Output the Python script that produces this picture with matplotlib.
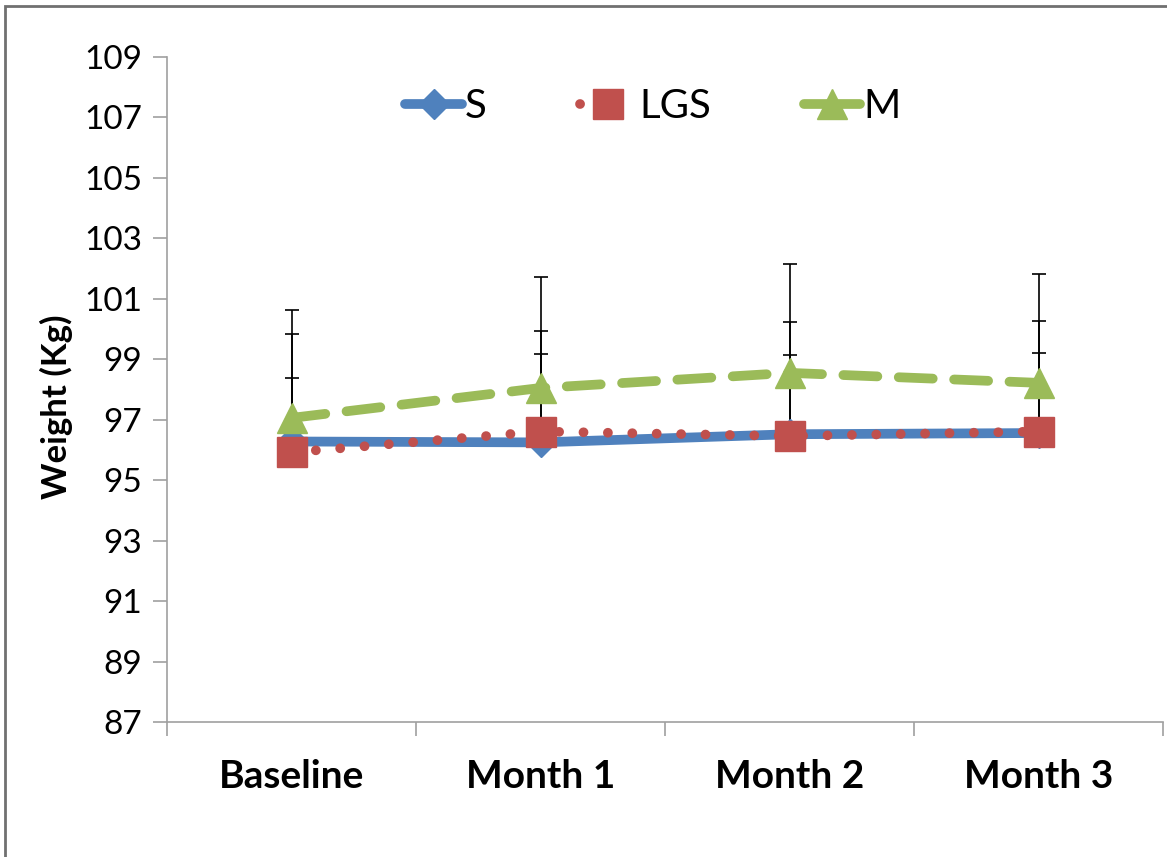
import matplotlib
matplotlib.use("Agg")
import matplotlib.pyplot as plt
from matplotlib.patches import Rectangle
from matplotlib.lines import Line2D
import numpy as np

categories = ["Baseline", "Month 1", "Month 2", "Month 3"]
s_vals = [96.28, 96.25, 96.52, 96.56]
lgs_vals = [95.92, 96.61, 96.46, 96.61]
m_vals = [97.06, 98.05, 98.55, 98.22]
s_err = [3.55, 3.70, 3.70, 3.71]
lgs_err = [2.47, 2.56, 2.67, 2.59]
m_err = [3.57, 3.66, 3.60, 3.60]
yticks = [87, 89, 91, 93, 95, 97, 99, 101, 103, 105, 107, 109]

plt.rcParams['font.family'] = ['Lato', 'DejaVu Sans']

W, H = 1167, 857
fig = plt.figure(figsize=(W/100, H/100), dpi=100)
ax = fig.add_axes([167/W, 1-722/H, (1163-167)/W, (722-57)/H])

x = np.arange(len(categories))
blue, red, green = "#4F81BD", "#C0504D", "#9BBB59"

# error bars (upper only)
for vals, err in ((s_vals, s_err), (lgs_vals, lgs_err), (m_vals, m_err)):
    ax.errorbar(x, vals, yerr=[np.zeros(len(err)), err], fmt='none', ecolor='black',
                elinewidth=1.2, capsize=5, capthick=1.2, zorder=2)

ax.plot(x, s_vals, color=blue, lw=7, marker='D', ms=15, mfc=blue, mec=blue,
        label='S', zorder=3, solid_capstyle='round')
ax.plot(x, lgs_vals, color=red, lw=7, linestyle=(0, (0.01, 2.5)), dash_capstyle='round',
        marker='s', ms=21, mfc=red, mec=red, label='LGS', zorder=4)
ax.plot(x, m_vals, color=green, lw=7, linestyle=(0, (3.5, 2.2)), dash_capstyle='round',
        marker='^', ms=22, mfc=green, mec=green, label='M', zorder=3)

ax.set_xlim(-0.5, 3.5)
ax.set_ylim(87, 109)
ax.set_yticks(yticks)
ax.set_yticklabels([str(v) for v in yticks], fontsize=24)
ax.set_xticks(x)
ax.set_xticklabels(categories, fontsize=28, fontweight='bold')
ax.tick_params(axis='x', length=0, pad=27)
ax.set_xticks([-0.5, 0.5, 1.5, 2.5, 3.5], minor=True)
ax.tick_params(axis='x', which='minor', length=10, color='#A0A0A0', width=1.2)
ax.tick_params(axis='y', length=10, color='#A0A0A0', width=1.2, pad=8)

for sp in ('top', 'right'):
    ax.spines[sp].set_visible(False)
for sp in ('left', 'bottom'):
    ax.spines[sp].set_color('#A0A0A0')
    ax.spines[sp].set_linewidth(1.2)

ax.set_ylabel('Weight (Kg)', fontsize=25, fontweight='bold')
ax.yaxis.set_label_coords(-0.094, 0.474)

handles = [
    Line2D([], [], color=blue, lw=7, marker='D', ms=15, solid_capstyle='round'),
    Line2D([], [], color=red, lw=7, linestyle=(0, (0.01, 100)), dash_capstyle='round',
           marker='s', ms=21),
    Line2D([], [], color=green, lw=7, solid_capstyle='round', marker='^', ms=22),
]
leg = ax.legend(handles, ['S', 'LGS', 'M'], loc='center', bbox_to_anchor=(0.488, 0.925),
                ncol=3, frameon=False, fontsize=29, handlelength=1.4,
                columnspacing=2.3, handletextpad=0.08)

fig.add_artist(Rectangle((5/W, -0.1), 1.2, 1 - 6/H + 0.1, transform=fig.transFigure,
                         fill=False, edgecolor='#707070', lw=2))

fig.savefig('out.png', dpi=100)
